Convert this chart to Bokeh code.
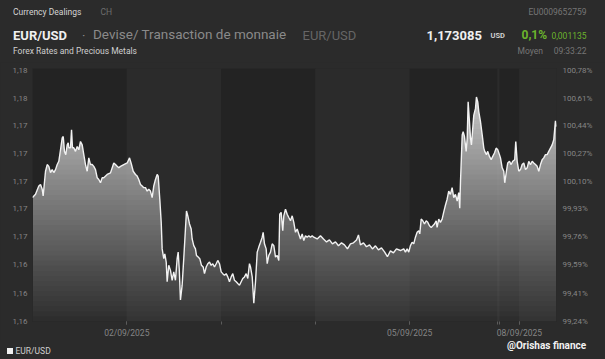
import numpy as np
from bokeh.plotting import figure
from bokeh.layouts import column
from bokeh.models import Range1d, LinearAxis, FixedTicker, Div
from bokeh.embed import file_html
from bokeh.resources import INLINE

# time in days since 01/09/2025 (weekend compressed as on the source chart)
days = [0.000,0.032,0.067,0.085,0.103,0.113,0.138,0.156,0.173,0.191,
0.209,0.226,0.244,0.262,0.279,0.297,0.315,0.326,0.339,0.353,
0.368,0.379,0.385,0.403,0.414,0.424,0.438,0.456,0.474,0.491,
0.509,0.527,0.544,0.562,0.580,0.597,0.615,0.633,0.650,0.668,
0.686,0.703,0.721,0.739,0.756,0.792,0.827,0.862,0.880,0.898,
0.915,0.933,0.968,1.004,1.029,1.050,1.068,1.092,1.110,1.127,
1.145,1.163,1.180,1.198,1.216,1.233,1.251,1.269,1.286,1.304,
1.322,1.333,1.350,1.365,1.375,1.392,1.403,1.418,1.428,1.445,
1.463,1.481,1.498,1.516,1.534,1.545,1.556,1.569,1.587,1.604,
1.622,1.633,1.647,1.665,1.683,1.693,1.710,1.728,1.739,1.757,
1.774,1.792,1.810,1.824,1.842,1.859,1.877,1.895,1.912,1.930,
1.948,1.965,1.983,2.001,2.018,2.036,2.054,2.071,2.089,2.107,
2.124,2.142,2.160,2.177,2.195,2.213,2.230,2.248,2.266,2.283,
2.301,2.312,2.330,2.347,2.365,2.383,2.400,2.418,2.436,2.446,
2.460,2.478,2.489,2.506,2.524,2.542,2.559,2.577,2.595,2.612,
2.622,2.637,2.654,2.665,2.683,2.701,2.718,2.736,2.754,2.771,
2.789,2.807,2.824,2.842,2.860,2.877,2.895,2.913,2.930,2.948,
2.966,2.983,3.019,3.054,
3.086,3.118,3.149,3.181,3.213,3.245,3.277,3.308,3.340,3.372,
3.404,3.436,3.457,3.478,3.510,3.542,3.574,3.605,3.637,3.669,
3.701,3.733,3.764,3.796,3.828,3.860,3.902,3.937,3.955,3.973,
3.990,4.008,4.026,4.043,4.061,4.079,4.096,4.107,4.122,4.139,
4.157,4.175,4.192,4.210,4.228,4.245,4.263,4.281,4.291,4.308,
4.326,4.344,4.361,4.379,4.397,4.414,4.432,4.450,4.467,4.485,
4.504,4.520,4.531,4.539,4.557,4.567,4.581,4.599,4.610,4.620,
4.634,4.645,4.655,4.666,4.680,4.698,4.708,4.722,4.733,4.751,
4.769,4.786,4.796,4.814,4.828,4.846,4.864,4.881,4.899,4.917,
4.934,4.952,4.963,4.981,4.998,5.008,5.026,5.040,5.058,5.076,
5.093,5.114,5.125,5.140,5.157,5.175,5.193,5.210,5.228,5.246,
5.263,5.281,5.299,5.316,5.334,5.352,5.369,5.387,5.405,5.422,
5.440,5.458,5.475,5.493,5.511,5.528,5.546,5.556]

# EUR/USD relative to base (right axis, %)
eurusd_pct = [99.999,100.019,100.070,100.080,100.050,100.009,100.161,100.202,100.191,100.153,
100.171,100.153,100.171,100.202,100.222,100.293,100.366,100.374,100.283,100.263,
100.323,100.336,100.305,100.305,100.415,100.305,100.305,100.283,100.313,100.293,
100.344,100.323,100.263,100.202,100.161,100.243,100.202,100.202,100.191,100.171,
100.121,100.110,100.090,100.121,100.121,100.141,100.151,100.212,100.202,100.191,
100.182,100.191,100.202,100.212,100.243,100.202,100.161,100.141,100.131,100.110,
100.080,100.070,100.060,100.060,100.039,100.050,100.039,99.999,100.070,100.110,
100.141,100.131,99.989,99.847,99.684,99.624,99.654,99.603,99.482,99.583,
99.552,99.491,99.543,99.491,99.624,99.664,99.563,99.370,99.461,99.624,
99.806,99.917,99.887,99.837,99.806,99.745,99.704,99.684,99.644,99.634,
99.624,99.583,99.573,99.532,99.573,99.593,99.603,99.583,99.593,99.573,
99.593,99.613,99.593,99.543,99.532,99.522,99.532,99.512,99.482,99.512,
99.532,99.491,99.482,99.471,99.461,99.482,99.502,99.512,99.532,99.502,
99.593,99.573,99.512,99.350,99.482,99.664,99.695,99.725,99.756,99.786,
99.715,99.684,99.593,99.644,99.664,99.715,99.704,99.634,99.644,99.613,
99.897,99.908,99.796,99.887,99.928,99.897,99.877,99.857,99.887,99.847,
99.786,99.806,99.776,99.745,99.776,99.735,99.765,99.756,99.765,99.756,
99.765,99.756,99.745,99.765,
99.745,99.727,99.739,99.715,99.727,99.703,99.721,99.709,99.684,99.715,
99.721,99.739,99.770,99.709,99.721,99.697,99.709,99.684,99.703,99.678,
99.690,99.666,99.636,99.672,99.660,99.684,99.674,99.684,99.664,99.684,
99.664,99.704,99.725,99.715,99.756,99.786,99.796,99.776,99.867,99.857,
99.837,99.857,99.847,99.826,99.816,99.826,99.837,99.857,99.816,99.867,
99.847,99.867,99.910,99.952,99.989,100.039,100.019,100.060,99.999,100.019,
99.978,100.030,99.934,100.100,100.384,100.404,100.374,100.283,100.364,100.587,
100.465,100.364,100.323,100.404,100.506,100.547,100.617,100.587,100.526,100.465,
100.384,100.303,100.283,100.263,100.283,100.252,100.232,100.252,100.273,100.303,
100.293,100.263,100.243,100.182,100.161,100.090,100.161,100.212,100.222,100.202,
100.222,100.232,100.344,100.222,100.161,100.171,100.202,100.212,100.171,100.182,
100.222,100.202,100.222,100.212,100.202,100.191,100.161,100.202,100.232,100.243,
100.263,100.263,100.283,100.303,100.323,100.354,100.470,100.435]

BASE = 1.168  # EUR/USD price corresponding to 100 %
pct_ticks = [100.78, 100.61, 100.44, 100.27, 100.10, 99.93, 99.76, 99.59, 99.41, 99.24]
day_bounds = [0, 1, 2, 3, 4, 4.93, 4.952, 5.164, 5.557]
tick_days = [1, 2, 3, 4, 4.93, 4.952, 5.164]
label_days = [1, 4, 5.164]
label_texts = ["02/09/2025", "05/09/2025", "08/09/2025"]

BG = "#2b2b2b"
FONT = "Roboto"
W = 605
HH, MH, FH = 62, 278, 19          # header / main / footer heights
Y0, Y1 = 99.238, 100.792


def span(text, x, yc, size, color, align="left", bold=False, font=FONT, ls=0):
    st = (f"position:absolute;top:{yc - size / 2:.1f}px;font-size:{size}px;"
          f"line-height:{size}px;color:{color};font-family:'{font}';"
          f"font-weight:{'bold' if bold else 'normal'};white-space:nowrap;"
          f"letter-spacing:{ls}px;")
    st += f"left:{x}px;" if align == "left" else f"right:{W - x}px;"
    return f'<span style="{st}">{text}</span>'


def box(h, parts):
    inner = "".join(parts)
    return Div(text=f'<div style="position:relative;width:{W}px;height:{h}px;'
                    f'background:{BG};overflow:hidden;">{inner}</div>',
               width=W, height=h, margin=(0, 0, 0, 0),
               styles={"background-color": BG})


# ---------- header ----------
header = box(HH, [
    span("Currency Dealings", 13, 12.5, 8.5, "#d4d4d4"),
    span("CH", 100.5, 12.5, 8.5, "#6e6e6e"),
    span("EU0009652759", 586.5, 12.5, 8.5, "#767676", align="right"),
    span("EUR/USD", 13, 35, 13, "#f0f0f0", bold=True),
    span("·", 82, 35, 13, "#8a8a8a"),
    span("Devise/ Transaction de monnaie", 93, 35, 13.5, "#8a8a8a"),
    span("EUR/USD", 302.5, 35, 13, "#666666"),
    span("1,173085", 426.5, 35, 13, "#f0f0f0", bold=True),
    span("USD", 490.5, 36, 7.5, "#cfcfcf", bold=True),
    span("0,1%", 521.5, 35, 12, "#6cb52d", bold=True),
    span("0,001135", 586.5, 36, 8.5, "#6cb52d", align="right"),
    span("Forex Rates and Precious Metals", 13, 51.5, 8.5, "#cfcfcf"),
    span("Moyen", 517.5, 51.5, 8.5, "#767676"),
    span("09:33:22", 586.5, 51.5, 8.5, "#767676", align="right"),
])

# ---------- main chart ----------
p = figure(width=W, height=MH, output_backend="svg", toolbar_location=None,
           x_range=Range1d(0, 5.557), y_range=Range1d(Y0, Y1),
           min_border_left=32, min_border_right=49, min_border_top=6, min_border_bottom=16,
           background_fill_color=BG, border_fill_color=BG, outline_line_color=None)
p.xgrid.visible = False
p.ygrid.visible = False

lefts = day_bounds[:-1]
rights = day_bounds[1:]
cols = ["#232323" if i % 2 == 0 else "#2b2b2b" for i in range(len(lefts))]
p.quad(left=lefts, right=rights, bottom=Y0, top=Y1, fill_color=cols, line_color=None)

x = np.array(days)
y = np.array(eurusd_pct)
n_layers = 50
levels = np.linspace(Y0, Y1, n_layers + 1)[:-1]
target = np.clip(0.05 + 0.75 * (levels - 99.24) / (100.62 - 99.24), 0.04, 0.9)
prev = 0.0
for lv, A in zip(levels, target):
    a = (A - prev) / (1 - prev)
    prev = A
    p.varea(x=x, y1=lv, y2=np.maximum(y, lv), fill_color="white", fill_alpha=float(a))

p.line(x, y, line_color="#f2f2f2", line_width=1.4)

ax_l = p.yaxis[0]
ax_l.ticker = FixedTicker(ticks=pct_ticks)
ax_l.major_label_overrides = {t: f"{BASE * t / 100:.2f}".replace(".", ",") for t in pct_ticks}
ax_r = LinearAxis(ticker=FixedTicker(ticks=pct_ticks))
ax_r.major_label_overrides = {t: f"{t:.2f}%".replace(".", ",") for t in pct_ticks}
p.add_layout(ax_r, "right")
for ax, st in ((ax_l, 5), (ax_r, 6)):
    ax.axis_line_color = None
    ax.major_tick_line_color = None
    ax.minor_tick_line_color = None
    ax.major_tick_out = 0
    ax.major_tick_in = 0
    ax.minor_tick_out = 0
    ax.minor_tick_in = 0
    ax.major_label_text_color = "#858585"
    ax.major_label_text_font = FONT
    ax.major_label_text_font_size = "8px"
    ax.major_label_standoff = st

xa = p.xaxis[0]
xa.ticker = FixedTicker(ticks=label_days, minor_ticks=tick_days)
xa.major_label_overrides = dict(zip(label_days, label_texts))
xa.axis_line_color = None
xa.major_tick_line_color = "#5c5c5c"
xa.minor_tick_line_color = "#5c5c5c"
xa.major_tick_in = 0
xa.major_tick_out = 3
xa.minor_tick_in = 0
xa.minor_tick_out = 3
xa.major_label_text_color = "#858585"
xa.major_label_text_font = FONT
xa.major_label_text_font_size = "8.5px"
xa.major_label_standoff = 3

# ---------- footer ----------
top_f = HH + MH
footer = box(FH, [
    span("@Orishas finance", 507, 345.5 - top_f, 10, "#f2f2f2", bold=True),
    '<div style="position:absolute;left:7px;top:7.5px;width:6px;height:6px;background:#f0f0f0;"></div>',
    span("EUR/USD", 15.5, 351 - top_f, 8.5, "#cfcfcf"),
])

layout = column(header, p, footer, spacing=0)
html = file_html(layout, INLINE)
html = html.replace("<head>", "<head><style>html,body{background:#2b2b2b;}</style>", 1)
open("out.html", "w").write(html)
